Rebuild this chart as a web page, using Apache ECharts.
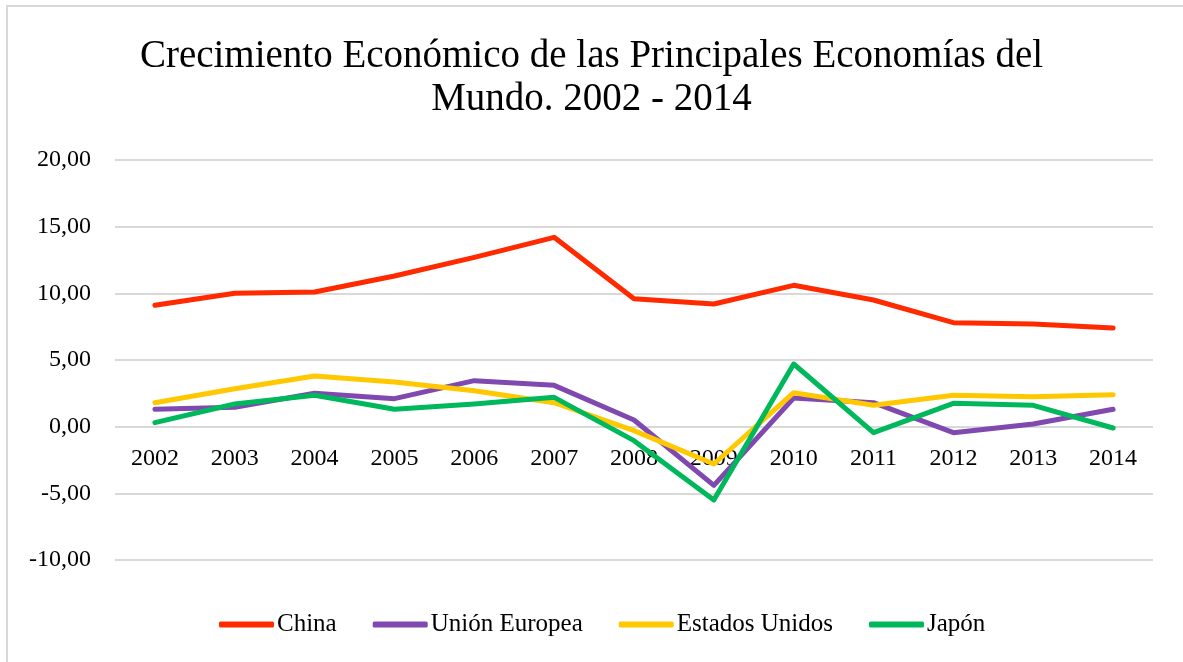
<!DOCTYPE html>
<html>
<head>
<meta charset="utf-8">
<script src="https://cdn.jsdelivr.net/npm/echarts@6/dist/echarts.min.js"></script>
<style>
  html, body { margin: 0; padding: 0; background: #fff; }
  #frame {
    position: absolute; left: 6px; top: 5px; width: 1180px; height: 660px;
    border-left: 2px solid #d9d9d9; border-top: 2px solid #d9d9d9;
    box-sizing: border-box;
  }
  #chart { position: absolute; left: 0; top: 0; width: 1183px; height: 662px; }
</style>
</head>
<body>
<div id="frame"></div>
<div id="chart"></div>
<script>
const years = ['2002', '2003', '2004', '2005', '2006', '2007', '2008', '2009', '2010', '2011', '2012', '2013', '2014']
const china = [9.1, 10.0, 10.1, 11.3, 12.7, 14.2, 9.6, 9.2, 10.6, 9.5, 7.8, 7.7, 7.4]
const unionEuropea = [1.3, 1.45, 2.5, 2.1, 3.45, 3.1, 0.5, -4.4, 2.15, 1.8, -0.45, 0.2, 1.3]
const estadosUnidos = [1.8, 2.85, 3.8, 3.35, 2.7, 1.8, -0.3, -2.8, 2.55, 1.6, 2.35, 2.25, 2.4]
const japon = [0.3, 1.7, 2.35, 1.3, 1.7, 2.2, -1.05, -5.5, 4.7, -0.45, 1.75, 1.6, -0.1]

const yMin = -10
const yMax = 20
const font = 'Liberation Serif'

// plot area
const gridTop = 160
const gridBottom = 102
const plotH = 662 - gridTop - gridBottom
// pull the category labels up to sit under the zero line
const zeroOffset = -plotH * (0 - yMin) / (yMax - yMin)

function line(name, data, color) {
  return {
    name: name,
    type: 'line',
    data: data,
    symbol: 'none',
    lineStyle: { width: 5, color: color, cap: 'round', join: 'round' },
    itemStyle: { color: color },
    animation: false
  }
}

const chart = echarts.init(document.getElementById('chart'))
chart.setOption({
  backgroundColor: 'transparent',
  title: {
    text: 'Crecimiento Económico de las Principales Economías del\nMundo. 2002 - 2014',
    left: 'center',
    top: 30,
    textStyle: { fontFamily: font, fontSize: 39, fontWeight: 'normal', color: '#000', lineHeight: 43 }
  },
  legend: {
    top: 607,
    left: 214,
    itemWidth: 55,
    itemHeight: 6,
    itemGap: 36,
    icon: 'roundRect',
    textStyle: { fontFamily: font, fontSize: 25, color: '#000', padding: [0, 0, 0, -2] },
    data: ['China', 'Unión Europea', 'Estados Unidos', 'Japón']
  },
  grid: { left: 115, right: 30, top: gridTop, bottom: gridBottom },
  xAxis: {
    type: 'category',
    data: years,
    offset: zeroOffset,
    axisLine: { show: false, onZero: false },
    axisTick: { show: false },
    axisLabel: { fontFamily: font, fontSize: 24, color: '#000', margin: 20 }
  },
  yAxis: {
    type: 'value',
    min: yMin,
    max: yMax,
    interval: 5,
    axisLine: { show: false },
    axisTick: { show: false },
    splitLine: { lineStyle: { color: '#d9d9d9', width: 2 } },
    axisLabel: {
      fontFamily: font, fontSize: 24, color: '#000', margin: 24,
      formatter: v => v.toFixed(2).replace('.', ',')
    }
  },
  series: [
    line('China', china, '#ff2a00'),
    line('Unión Europea', unionEuropea, '#7f49b0'),
    line('Estados Unidos', estadosUnidos, '#ffc800'),
    line('Japón', japon, '#00b85c')
  ]
})
</script>
</body>
</html>
